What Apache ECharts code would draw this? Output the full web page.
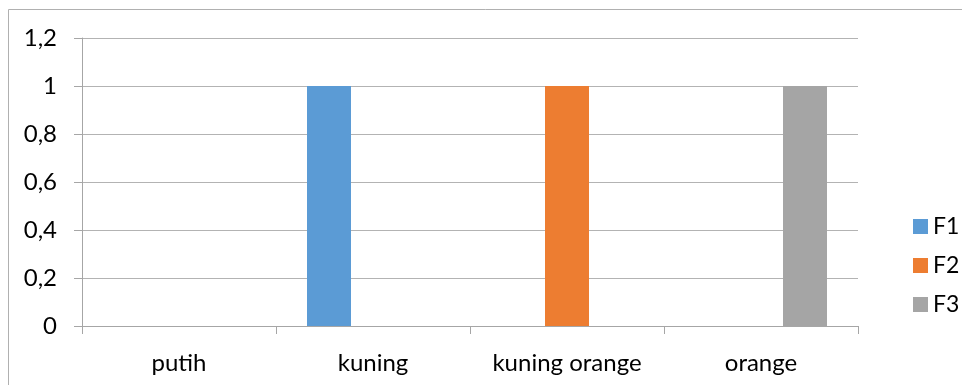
<!DOCTYPE html>
<html>
<head>
<meta charset="utf-8">
<script src="https://cdn.jsdelivr.net/npm/echarts@6/dist/echarts.min.js"></script>
<style>
  html, body { margin: 0; padding: 0; background: #fff; }
  #chart { width: 962px; height: 385px; }
</style>
</head>
<body>
<div id="chart"></div>
<script>
// Colour categories and one series per sample
const categories = ['putih', 'kuning', 'kuning orange', 'orange'];
const seriesNames = ['F1', 'F2', 'F3'];
const f1Values = [0, 1, 0, 0];
const f2Values = [0, 0, 1, 0];
const f3Values = [0, 0, 0, 1];
const yTicks = { min: 0, max: 1.2, interval: 0.2 };

const palette = ['#5B9BD5', '#ED7D31', '#A5A5A5'];
const fontFamily = 'Lato, "Open Sans", sans-serif';
const fontSize = 24;

const chart = echarts.init(document.getElementById('chart'), null, { renderer: 'canvas' });

const barSeries = [f1Values, f2Values, f3Values].map((vals, i) => ({
  name: seriesNames[i],
  type: 'bar',
  data: vals,
  barWidth: 44,
  barGap: '0%',
  itemStyle: { color: palette[i] },
  emphasis: { disabled: true }
}));

chart.setOption({
  animation: false,
  color: palette,
  textStyle: { fontFamily: fontFamily },
  graphic: [{
    type: 'rect',
    silent: true,
    shape: { x: 8.5, y: 9.5, width: 1000, height: 1000 },
    style: { fill: 'none', stroke: '#b0b0b0', lineWidth: 1 }
  }],
  grid: { left: 82, right: 104, top: 38, bottom: 59, containLabel: false },
  legend: {
    orient: 'vertical',
    left: 908,
    top: 210,
    itemWidth: 15,
    itemHeight: 15,
    itemGap: 16,
    icon: 'rect',
    selectedMode: false,
    data: seriesNames,
    textStyle: { fontFamily: fontFamily, fontSize: 23, color: '#000', padding: [0, 0, 0, 0] }
  },
  xAxis: {
    type: 'category',
    data: categories,
    axisLine: { show: true, lineStyle: { color: '#a6a6a6', width: 1 } },
    axisTick: { show: true, length: 8, lineStyle: { color: '#a6a6a6' } },
    axisLabel: { fontFamily: fontFamily, fontSize: fontSize, color: '#000', margin: 25 },
    splitLine: { show: false }
  },
  yAxis: {
    type: 'value',
    min: yTicks.min,
    max: yTicks.max,
    interval: yTicks.interval,
    axisLine: { show: true, lineStyle: { color: '#a6a6a6', width: 1 } },
    axisTick: { show: true, length: 8, lineStyle: { color: '#a6a6a6' } },
    axisLabel: {
      fontFamily: fontFamily,
      fontSize: fontSize,
      color: '#000',
      margin: 25,
      padding: [5, 0, 0, 0],
      formatter: v => String(Math.round(v * 10) / 10).replace('.', ',')
    },
    splitLine: { show: true, lineStyle: { color: '#b3b3b3', width: 1 } }
  },
  series: barSeries
});
</script>
</body>
</html>
